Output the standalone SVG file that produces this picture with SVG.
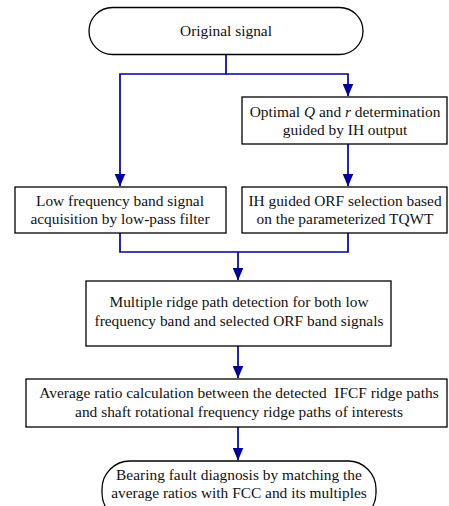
<svg xmlns="http://www.w3.org/2000/svg" width="449" height="506" viewBox="0 0 449 506">
<style>
.box{fill:#fff;stroke:#000;stroke-width:1.3}
.t{font-family:"Liberation Serif","Times New Roman",serif;font-size:15.4px;fill:#111;text-anchor:middle}
.c{fill:none;stroke:#0000a0;stroke-width:1.7}
</style>
<defs>
<marker id="ah" markerWidth="13" markerHeight="11" refX="12.5" refY="5.5" orient="auto" markerUnits="userSpaceOnUse" viewBox="0 0 13 11">
<path d="M0,0 L13,5.5 L0,11 Z" fill="#0000a0"/>
</marker>
</defs>
<rect width="449" height="506" fill="#fff"/>
<g id="connectors">
<path class="c" d="M226,55 V74 H120 V186" marker-end="url(#ah)"/>
<path class="c" d="M226,74 H348 V96" marker-end="url(#ah)"/>
<path class="c" d="M348,144 V186" marker-end="url(#ah)"/>
<path class="c" d="M120,233 V252 H348 V233"/>
<path class="c" d="M238,252 V280" marker-end="url(#ah)"/>
<path class="c" d="M238,346 V378" marker-end="url(#ah)"/>
<path class="c" d="M238,427 V460" marker-end="url(#ah)"/>
</g>
<g id="n1"><rect class="box" x="89" y="7.5" width="274" height="47" rx="23.5"/><text class="t" x="226" y="36">Original signal</text></g>
<g id="n2"><rect class="box" x="242" y="97" width="205" height="47"/><text class="t" x="345" y="117">Optimal <tspan font-style="italic">Q</tspan> and <tspan font-style="italic">r</tspan> determination</text><text class="t" x="345" y="135">guided by IH output</text></g>
<g id="n3"><rect class="box" x="15" y="187" width="211" height="46"/><text class="t" x="120" y="206">Low frequency band signal</text><text class="t" x="120" y="224">acquisition by low-pass filter</text></g>
<g id="n4"><rect class="box" x="242" y="187" width="205" height="46"/><text class="t" x="345" y="206">IH guided ORF selection based</text><text class="t" x="345" y="224">on the parameterized TQWT</text></g>
<g id="n5"><rect class="box" x="86" y="281" width="305" height="65"/><text class="t" x="239" y="307">Multiple ridge path detection for both low</text><text class="t" x="239" y="326">frequency band and selected ORF band signals</text></g>
<g id="n6"><rect class="box" x="26" y="379" width="421" height="48"/><text class="t" x="239" y="398" xml:space="preserve">Average ratio calculation between the detected  IFCF ridge paths</text><text class="t" x="239" y="417">and shaft rotational frequency ridge paths of interests</text></g>
<g id="n7"><rect class="box" x="102" y="461" width="274" height="60" rx="28"/><text class="t" x="239" y="480">Bearing fault diagnosis by matching the</text><text class="t" x="239" y="498">average ratios with FCC and its multiples</text></g>
</svg>
